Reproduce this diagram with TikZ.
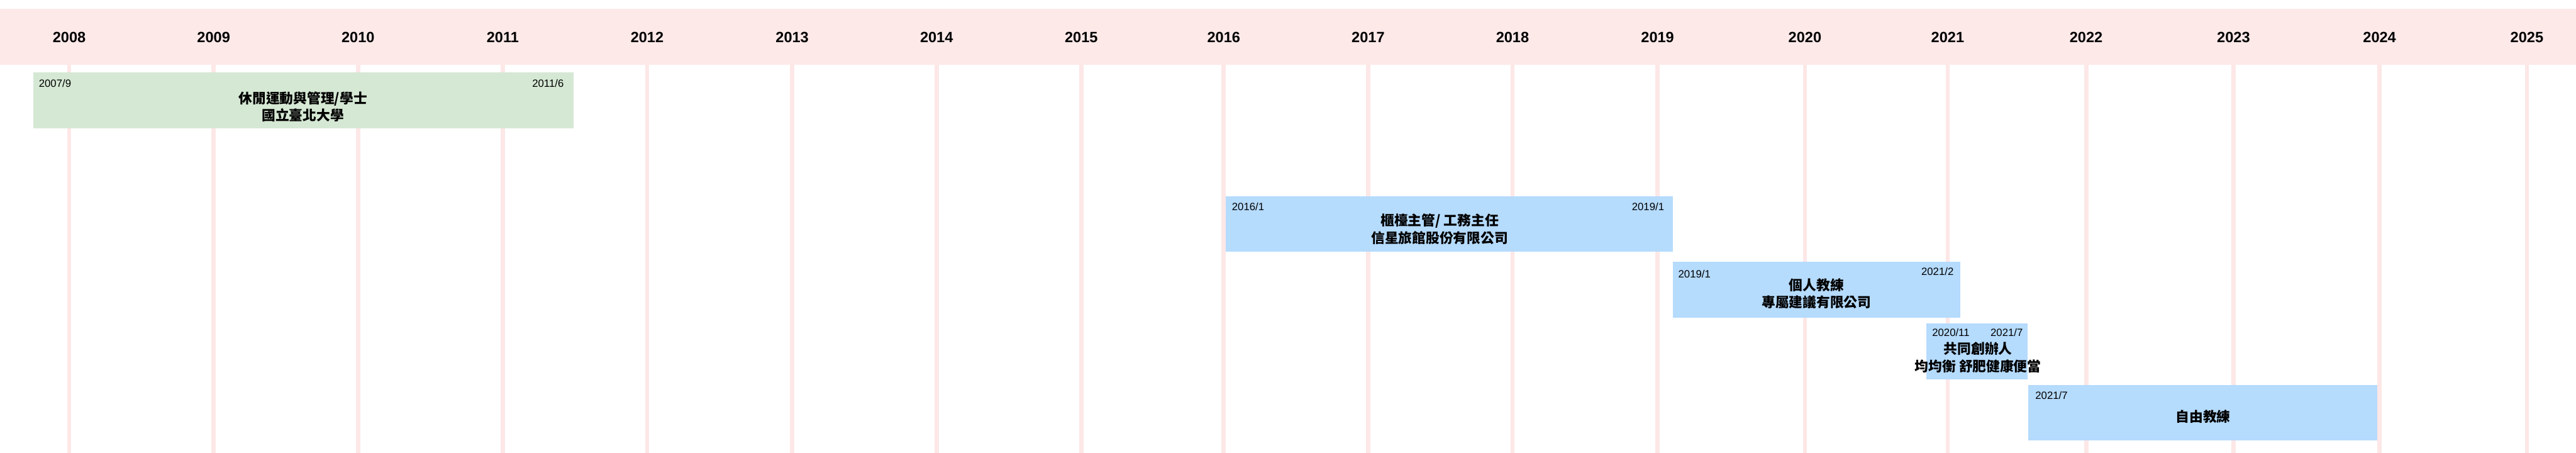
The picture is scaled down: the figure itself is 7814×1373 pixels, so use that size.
\documentclass[tikz,border=0pt]{standalone}
\usepackage{fontspec}
\setmainfont{Liberation Sans}
\newfontfamily\cjk{Noto Sans CJK TC}
\usepackage{xcolor}
\definecolor{bandpink}{RGB}{254,233,233}
\definecolor{gridpink}{RGB}{253,231,231}
\definecolor{edugreen}{RGB}{213,232,212}
\definecolor{jobblue}{RGB}{181,219,253}

\begin{document}
\begin{tikzpicture}[
  x=0.1mm, y=-0.1mm,
  every node/.style={inner sep=0pt, outer sep=0pt},
  yearlabel/.style={font=\fontsize{12.8}{14}\selectfont\bfseries},
  datelabel/.style={font=\fontsize{9.1}{11}\selectfont},
  titlelabel/.style={align=center, font=\cjk\bfseries\fontsize{11.8}{14.8}\selectfont},
  gridline/.style={draw=gridpink, line width=1.3mm},
  bar/.style={anchor=north west, minimum height=16.9mm},
  edubar/.style={bar, fill=edugreen},
  jobbar/.style={bar, fill=jobblue}
]
\useasboundingbox (0,0) rectangle (7814,1373);
% year band and grid
\fill[bandpink] (0,27) rectangle (7814,196);
\foreach \yr/\xx in {2008/210, 2009/648, 2010/1086, 2011/1525, 2012/1963,
  2013/2403, 2014/2841, 2015/3280, 2016/3712, 2017/4150, 2018/4588,
  2019/5028, 2020/5475, 2021/5908, 2022/6328, 2023/6775, 2024/7218,
  2025/7665}{
  \draw[gridline] (\xx,196) -- (\xx,1373);
  \node[yearlabel, anchor=base] (y\yr) at (\xx,128) {\yr};
}

% education
\node[edubar, minimum width=163.7mm] (edu) at (102,220) {};
\node[datelabel, anchor=base west] (edu-from) at (118,265) {2007/9};
\node[datelabel, anchor=base east] (edu-to) at (1710,265) {2011/6};
\node[titlelabel] (edu-title) at (919,323) {休閒運動與管理/學士\\國立臺北大學};

% jobs
\node[jobbar, minimum width=135.5mm] (hotel) at (3719,595) {};
\node[datelabel, anchor=base west] (hotel-from) at (3737,638) {2016/1};
\node[datelabel, anchor=base east] (hotel-to) at (5048,638) {2019/1};
\node[titlelabel] (hotel-title) at (4367,695) {櫃檯主管/ 工務主任\\信星旅館股份有限公司};

\node[jobbar, minimum width=87.2mm] (coach) at (5075,794) {};
\node[datelabel, anchor=base west] (coach-from) at (5091,842) {2019/1};
\node[datelabel, anchor=base east] (coach-to) at (5926,835) {2021/2};
\node[titlelabel] (coach-title) at (5510,890) {個人教練\\專屬建議有限公司};

\node[jobbar, minimum width=30.7mm] (founder) at (5844,981) {};
\node[datelabel, anchor=base west] (founder-from) at (5861,1020) {2020/11};
\node[datelabel, anchor=base east] (founder-to) at (6136,1020) {2021/7};
\node[titlelabel] (founder-title) at (6000,1084) {共同創辦人\\均均衡 舒肥健康便當};

\node[jobbar, minimum width=106mm] (freelance) at (6152,1167) {};
\node[datelabel, anchor=base west] (freelance-from) at (6174,1210) {2021/7};
\node[titlelabel] (freelance-title) at (6683,1264) {自由教練};
\end{tikzpicture}
\end{document}
